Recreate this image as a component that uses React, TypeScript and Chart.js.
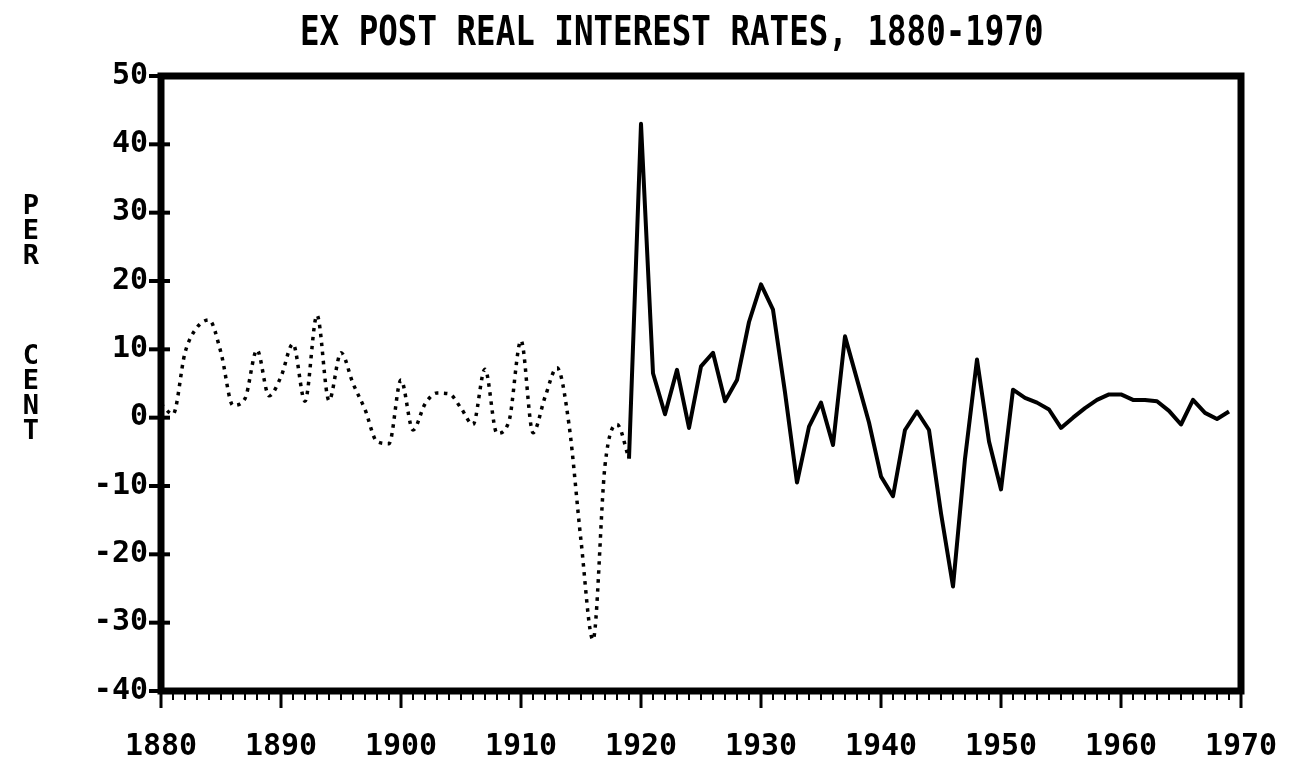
import React, { useEffect, useRef } from "react";
import { Chart, registerables } from "chart.js";

Chart.register(...registerables);

// ---- data ----
const earlyYears = [
  1880, 1881, 1882, 1883, 1884, 1885, 1886, 1887, 1888, 1889,
  1890, 1891, 1892, 1893, 1894, 1895, 1896, 1897, 1898, 1899,
  1900, 1901, 1902, 1903, 1904, 1905, 1906, 1907, 1908, 1909,
  1910, 1911, 1912, 1913, 1914, 1915, 1916, 1917, 1918, 1919,
];
const earlyRates = [
  2, 0.5, 9.5, 13.2, 14.3, 9.5, 1.8, 2.8, 9.9, 3.2,
  6, 10.8, 2.4, 15, 2.5, 9.5, 5, 1.2, -3.5, -3.8,
  5.5, -1.8, 2, 3.6, 3.5, 1.4, -1, 7.1, -2.3, -0.5,
  11.3, -2.2, 3, 7.3, -1, -18, -32.5, -7, -1, -6,
];

const lateYears = [
  1919, 1920, 1921, 1922, 1923, 1924, 1925, 1926, 1927, 1928, 1929,
  1930, 1931, 1932, 1933, 1934, 1935, 1936, 1937, 1938, 1939,
  1940, 1941, 1942, 1943, 1944, 1945, 1946, 1947, 1948, 1949,
  1950, 1951, 1952, 1953, 1954, 1955, 1956, 1957, 1958, 1959,
  1960, 1961, 1962, 1963, 1964, 1965, 1966, 1967, 1968, 1969,
];
const lateRates = [
  -6, 43, 6.5, 0.5, 7, -1.5, 7.5, 9.5, 2.4, 5.5, 14,
  19.5, 15.8, 3.7, -9.5, -1.3, 2.2, -4, 11.9, 5.6, -0.7,
  -8.6, -11.5, -1.8, 0.9, -1.8, -14, -24.7, -6, 8.5, -3.5,
  -10.5, 4.1, 2.9, 2.2, 1.2, -1.5, 0, 1.4, 2.6, 3.4,
  3.4, 2.6, 2.6, 2.4, 1, -1, 2.6, 0.7, -0.2, 0.9,
];

const xTickLabels = [1880, 1890, 1900, 1910, 1920, 1930, 1940, 1950, 1960, 1970];
const yTickLabels = [-40, -30, -20, -10, 0, 10, 20, 30, 40, 50];

const titleText = "EX POST REAL INTEREST RATES, 1880-1970";
const yAxisLetters = ["P", "E", "R", "", "", "", "C", "E", "N", "T"];

const FONT = '"DejaVu Sans Mono", "Liberation Mono", monospace';

const frameAndTicks = {
  id: "frameAndTicks",
  afterDatasetsDraw(chart: any) {
    const { ctx, chartArea: a, scales } = chart;
    const xs = scales.x;
    const ys = scales.y;
    ctx.save();
    ctx.strokeStyle = "#000";
    ctx.lineCap = "butt";
    const first = xTickLabels[0];
    const last = xTickLabels[xTickLabels.length - 1];
    for (let yr = first; yr <= last; yr++) {
      const px = xs.getPixelForValue(yr);
      const major = yr % 10 === 0;
      ctx.lineWidth = major ? 3 : 2;
      ctx.beginPath();
      ctx.moveTo(px, a.bottom);
      ctx.lineTo(px, a.bottom + (major ? 17 : 9));
      ctx.stroke();
    }
    ctx.lineWidth = 4;
    for (const v of yTickLabels) {
      const py = ys.getPixelForValue(v);
      ctx.beginPath();
      ctx.moveTo(a.left - 12, py);
      ctx.lineTo(a.left + 9, py);
      ctx.stroke();
    }
    ctx.lineWidth = 7;
    ctx.strokeRect(a.left, a.top, a.right - a.left, a.bottom - a.top);
    ctx.restore();
  },
};

export default function App() {
  const canvasRef = useRef<HTMLCanvasElement | null>(null);

  useEffect(() => {
    const canvas = canvasRef.current;
    if (!canvas) return;
    const tickFont = { family: FONT, size: 30, weight: "bold" as const };
    const chart = new Chart(canvas, {
      type: "line",
      data: {
        datasets: [
          {
            label: "1880-1919",
            data: earlyYears.map((yr, i) => ({ x: yr, y: earlyRates[i] })),
            borderColor: "#000",
            borderWidth: 3.5,
            borderDash: [3.5, 5.5],
            borderCapStyle: "butt",
            pointRadius: 0,
            fill: false,
            cubicInterpolationMode: "monotone",
          },
          {
            label: "1919-1969",
            data: lateYears.map((yr, i) => ({ x: yr, y: lateRates[i] })),
            borderColor: "#000",
            borderWidth: 4,
            borderJoinStyle: "round",
            pointRadius: 0,
            fill: false,
            tension: 0,
          },
        ],
      },
      options: {
        animation: false,
        responsive: true,
        maintainAspectRatio: false,
        layout: { padding: { top: 76, right: 49, left: 0, bottom: 0 } },
        plugins: {
          legend: { display: false },
          tooltip: { enabled: false },
          title: { display: false },
        },
        scales: {
          x: {
            type: "linear",
            min: xTickLabels[0],
            max: xTickLabels[xTickLabels.length - 1],
            grid: { display: false, drawTicks: false, tickLength: 0 },
            border: { display: false },
            ticks: {
              stepSize: 10,
              autoSkip: false,
              maxRotation: 0,
              padding: 38,
              color: "#000",
              font: tickFont,
              callback: (v: any) => String(v),
            },
            afterFit: (s: any) => {
              s.height = 77;
              s.paddingLeft = 0;
              s.paddingRight = 0;
            },
          },
          y: {
            type: "linear",
            min: yTickLabels[0],
            max: yTickLabels[yTickLabels.length - 1],
            grid: { display: false, drawTicks: false, tickLength: 0 },
            border: { display: false },
            ticks: {
              stepSize: 10,
              padding: 13,
              color: "#000",
              font: tickFont,
              callback: (v: any) => String(v),
            },
            afterFit: (s: any) => {
              s.width = 161;
              s.paddingTop = 0;
              s.paddingBottom = 0;
            },
          },
        },
      },
      plugins: [frameAndTicks],
    });
    return () => chart.destroy();
  }, []);

  return (
    <div
      style={{
        position: "fixed",
        left: 0,
        top: 0,
        width: 1290,
        height: 768,
        background: "#fff",
      }}
    >
      <canvas ref={canvasRef} style={{ width: "100%", height: "100%" }} />
      <div
        style={{
          position: "absolute",
          left: 300,
          top: 15,
          font: `bold 32.5px ${FONT}`,
          lineHeight: "33px",
          whiteSpace: "pre",
          color: "#000",
          transform: "scaleY(1.25)",
          transformOrigin: "50% 50%",
        }}
      >
        {titleText}
      </div>
      <div
        style={{
          position: "absolute",
          left: 16,
          top: 192,
          font: `bold 27px ${FONT}`,
          color: "#000",
          textAlign: "center",
          width: 30,
        }}
      >
        {yAxisLetters.map((ch, i) => (
          <div key={i} style={{ height: 25, lineHeight: "25px" }}>
            {ch}
          </div>
        ))}
      </div>
    </div>
  );
}
